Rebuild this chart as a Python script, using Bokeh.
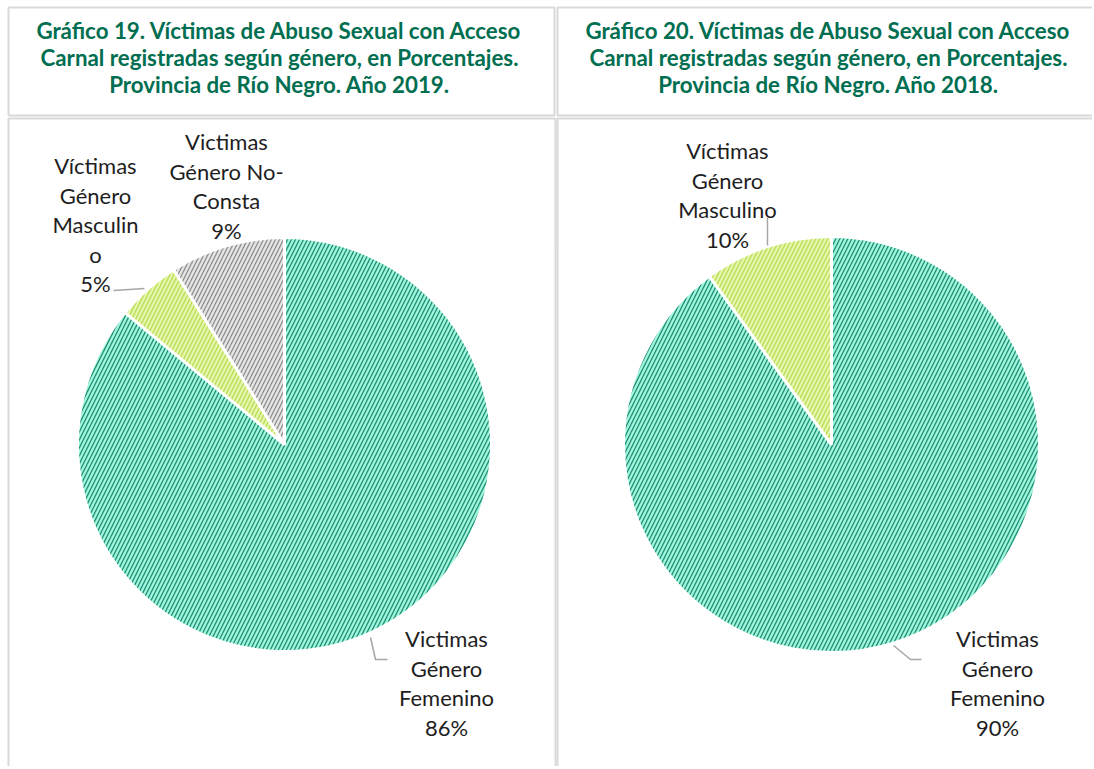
import numpy as np
from bokeh.plotting import figure
from bokeh.models import Range1d, ColumnDataSource
from bokeh.core.properties import value
from bokeh.embed import file_html
from bokeh.resources import INLINE

# ---- data ----
titles_2019 = ["Gráfico 19. Víctimas de Abuso Sexual con Acceso",
               "Carnal registradas según género, en Porcentajes.",
               "Provincia de Río Negro. Año 2019."]
titles_2018 = ["Gráfico 20. Víctimas de Abuso Sexual con Acceso",
               "Carnal registradas según género, en Porcentajes.",
               "Provincia de Río Negro. Año 2018."]

cats_2019 = ["Victimas Género Femenino", "Víctimas Género Masculino", "Victimas Género No-Consta"]
vals_2019 = [86, 5, 9]
labels_2019 = [["Victimas", "Género", "Femenino", "86%"],
               ["Víctimas", "Género", "Masculin", "o", "5%"],
               ["Victimas", "Género No-", "Consta", "9%"]]

cats_2018 = ["Victimas Género Femenino", "Víctimas Género Masculino"]
vals_2018 = [90, 10]
labels_2018 = [["Victimas", "Género", "Femenino", "90%"],
               ["Víctimas", "Género", "Masculino", "10%"]]

fill_colors = ["#a2f6df", "#e6f6ad", "#e6e6e6"]
hatch_colors = ["#1c8c6e", "#b8dc50", "#8e8e8e"]

OFF = 0
W, H = 1092, 766
def X(px):
    return px - OFF
def Y(py):
    return (H + OFF) - py

p = figure(width=W, height=H, x_range=Range1d(0, W), y_range=Range1d(0, H),
           output_backend="svg", toolbar_location=None, min_border=0)
p.axis.visible = False
p.grid.visible = False
p.outline_line_color = None
p.background_fill_color = "white"
p.border_fill_color = "white"

# ---- boxes ----
border = "#d9d9d9"
boxes = [(8, 7, 554, 115), (557, 7, 1100, 115), (8, 118, 555, 780), (557, 118, 1100, 780)]
p.quad(left=[X(b[0]) for b in boxes], right=[X(b[2]) for b in boxes],
       top=[Y(b[1]) for b in boxes], bottom=[Y(b[3]) for b in boxes],
       fill_color=None, line_color=border, line_width=2)

# ---- titles ----
title_color = "#006e50"
for cx, lines in [(279, titles_2019), (828, titles_2018)]:
    p.text(x=[X(cx)] * 3, y=[Y(30), Y(57), Y(84)], text=lines,
           text_font=value("Lato"), text_font_style="bold", text_font_size="22.3px",
           text_color=title_color, text_align="center", text_baseline="middle")

# ---- pies ----
def draw_pie(cx, cy, r, vals):
    v = np.array(vals, dtype=float)
    frac = v / v.sum()
    cum = np.concatenate([[0], np.cumsum(frac)])
    a_start = np.pi / 2 - 2 * np.pi * cum[:-1]
    a_end = np.pi / 2 - 2 * np.pi * cum[1:]
    n = len(vals)
    src = ColumnDataSource(dict(
        x=[X(cx)] * n, y=[Y(cy)] * n,
        start=a_end, end=a_start,
        fill=fill_colors[:n], hatch=hatch_colors[:n]))
    p.wedge(x="x", y="y", radius=r, start_angle="start", end_angle="end",
            direction="anticlock", source=src,
            fill_color="fill", line_color="white", line_width=3,
            hatch_pattern="/", hatch_color="hatch", hatch_scale=8, hatch_weight=1.3)

draw_pie(284, 444, 207, vals_2019)
draw_pie(831, 444, 208, vals_2018)

def label(cx, y0, lines, dy=29.5):
    ys = [Y(y0 + i * dy) for i in range(len(lines))]
    p.text(x=[X(cx)] * len(lines), y=ys, text=lines,
           text_font=value("Lato"), text_font_size="22px",
           text_color="#1e1e1e", text_align="center", text_baseline="middle")

label(446, 638, labels_2019[0])
label(95, 165, labels_2019[1])
label(226, 141, labels_2019[2])
label(997, 638, labels_2018[0])
label(727, 150, labels_2018[1])

# leader lines
lc = "#a6a6a6"
p.line([X(370), X(375), X(387)], [Y(637), Y(659), Y(659)], line_color=lc, line_width=1.5)
p.line([X(113), X(144)], [Y(290), Y(288)], line_color=lc, line_width=1.5)
p.line([X(893), X(910), X(921)], [Y(645), Y(659), Y(659)], line_color=lc, line_width=1.5)
p.line([X(767), X(767)], [Y(217), Y(245)], line_color=lc, line_width=1.5)

open("out.html", "w").write(file_html(p, INLINE))
